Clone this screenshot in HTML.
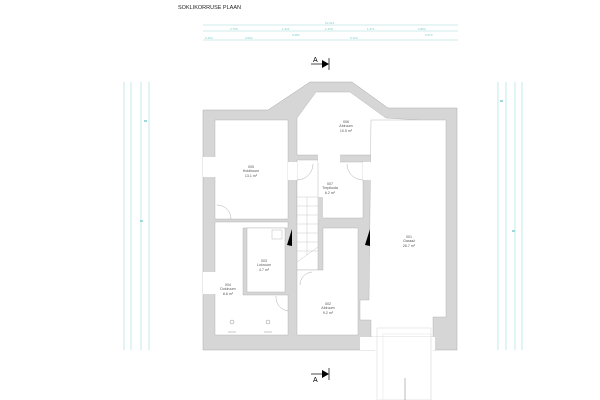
<!DOCTYPE html>
<html><head><meta charset="utf-8"><style>
html,body{margin:0;padding:0;background:#fff;width:600px;height:400px;overflow:hidden}
svg{display:block}
</style></head><body>
<svg width="600" height="400" viewBox="0 0 600 400" xmlns="http://www.w3.org/2000/svg" font-family="Liberation Sans, sans-serif">
<text x="178" y="9" font-size="5.5" fill="#222">SOKLIKORRUSE PLAAN</text>
<g stroke="#9fd8d8" stroke-width="0.6" fill="#9fd8d8">
<line x1="203" y1="25" x2="458" y2="25"/>
<line x1="203" y1="31" x2="458" y2="31"/>
<line x1="203" y1="40" x2="458" y2="40"/>
<line x1="124" y1="82" x2="124" y2="350"/>
<line x1="131" y1="82" x2="131" y2="350"/>
<line x1="141" y1="82" x2="141" y2="350"/>
<line x1="149" y1="82" x2="149" y2="350"/>
<line x1="498" y1="82" x2="498" y2="350"/>
<line x1="506" y1="82" x2="506" y2="350"/>
<line x1="515" y1="82" x2="515" y2="350"/>
<line x1="522" y1="82" x2="522" y2="350"/>
</g>
<g fill="#7cc" font-size="3">
<text x="325" y="24">10.314</text><text x="230" y="30">2.750</text><text x="282" y="30">1.421</text><text x="325" y="30">1.428</text><text x="367" y="30">1.471</text><text x="418" y="30">2.864</text>
<text x="205" y="39">0.404</text><text x="245" y="39">3.064</text><text x="292" y="36">0.284</text><text x="350" y="39">5.104</text><text x="425" y="36">0.274</text>
</g>
<g fill="#9fd8d8"><rect x="144" y="120" width="3" height="2"/><rect x="140" y="220" width="3" height="2"/><rect x="500" y="100" width="3" height="2"/><rect x="512" y="230" width="3" height="2"/></g>
<g stroke="#000" stroke-width="0.7">
<line x1="311" y1="64" x2="327" y2="64"/><line x1="329" y1="58" x2="329" y2="70"/>
<line x1="311" y1="374" x2="327" y2="374"/><line x1="329" y1="368" x2="329" y2="380"/>
</g>
<polygon points="322,60 329,64 322,68" fill="#000"/>
<polygon points="322,370 329,374 322,378" fill="#000"/>
<text x="313" y="62" font-size="7">A</text>
<text x="313" y="382" font-size="7">A</text>
<polygon points="203,110 268,110 310,82 352,82 388,108 457,108 457,350 433,350 433,337 375,337 375,350 203,350" fill="#d6d6d6" stroke="#aaa" stroke-width="0.5"/>
<g fill="#fff" stroke="#aaa" stroke-width="0.4">
<polygon points="297,118 316,92 350,92 386,118 418,120 418,127 398,155 297,155"/>
<rect x="215" y="120" width="73" height="99"/>
<polygon points="215,222 288,222 288,228 243,228 243,295 288,295 288,335 215,335"/>
<rect x="247" y="228" width="38" height="64"/>
<rect x="297" y="162" width="66" height="56"/>
<rect x="297" y="160" width="21" height="110"/>
<polygon points="323,228 358,228 358,335 297,335 297,270 323,270"/>
<polygon points="371,120 446,120 446,317 433,317 433,337 371,337 371,320 360,320 360,300 369,300"/>
</g>
<rect x="318" y="197" width="5" height="22" fill="#d6d6d6"/>
<g fill="#fff">
<rect x="288" y="162" width="9" height="18"/>
<rect x="363" y="162" width="8" height="18"/>
<rect x="318" y="153" width="22" height="10"/>
<rect x="203" y="157" width="13" height="20"/>
<rect x="203" y="272" width="13" height="22"/>
<rect x="360" y="337" width="75" height="13"/>
</g>
<g stroke="#999" stroke-width="0.4" fill="none">
<path d="M297,180 A16,16 0 0 0 313,164"/><path d="M363,180 A16,16 0 0 1 347,164"/>
<path d="M217,205 A14,14 0 0 1 231,219"/><path d="M288,311 A14,14 0 0 1 276,296"/>
<path d="M300,285 A13,13 0 0 1 312,272"/>
<g stroke="#bbb"><line x1="297" y1="197" x2="318" y2="197"/><line x1="297" y1="206" x2="318" y2="206"/><line x1="297" y1="215" x2="318" y2="215"/><line x1="297" y1="224" x2="318" y2="224"/><line x1="297" y1="233" x2="318" y2="233"/><line x1="297" y1="242" x2="318" y2="242"/><line x1="297" y1="251" x2="318" y2="251"/><line x1="297" y1="262" x2="318" y2="247"/><line x1="307" y1="197" x2="307" y2="255"/></g>
<rect x="377" y="328" width="54" height="72" stroke="#ccc"/>
<rect x="383" y="334" width="48" height="66" stroke="#ddd"/>
<line x1="405" y1="378" x2="405" y2="400" stroke="#555"/>
</g>
<polygon points="287,245 292,229 292,246" fill="#000"/>
<polygon points="365,245 370,229 370,246" fill="#000"/>
<g font-size="3.6" fill="#555" text-anchor="middle">
<text x="346" y="123">006</text><text x="346" y="127">Abiruum</text><text x="346" y="132">10.5 m²</text>
<text x="251" y="168">005</text><text x="251" y="172">Hoidiruum</text><text x="251" y="177">13.1 m²</text>
<text x="330" y="185">007</text><text x="330" y="189">Trepikoda</text><text x="330" y="194">6.2 m²</text>
<text x="409" y="238">001</text><text x="409" y="242">Garaaž</text><text x="409" y="247">26.7 m²</text>
<text x="264" y="262">003</text><text x="264" y="266">Lokruum</text><text x="264" y="271">4.7 m²</text>
<text x="228" y="286">004</text><text x="228" y="290">Duširuum</text><text x="228" y="295">8.6 m²</text>
<text x="328" y="305">002</text><text x="328" y="309">Abiruum</text><text x="328" y="314">9.2 m²</text>
</g>
<g stroke="#777" stroke-width="0.4" fill="none"><circle cx="232" cy="322" r="2"/><circle cx="268" cy="322" r="2"/>
<line x1="228" y1="332" x2="236" y2="332"/><line x1="264" y1="332" x2="272" y2="332"/></g>
<rect x="272" y="230" width="10" height="9" fill="none" stroke="#aaa" stroke-width="0.4"/>
</svg>
</body></html>
